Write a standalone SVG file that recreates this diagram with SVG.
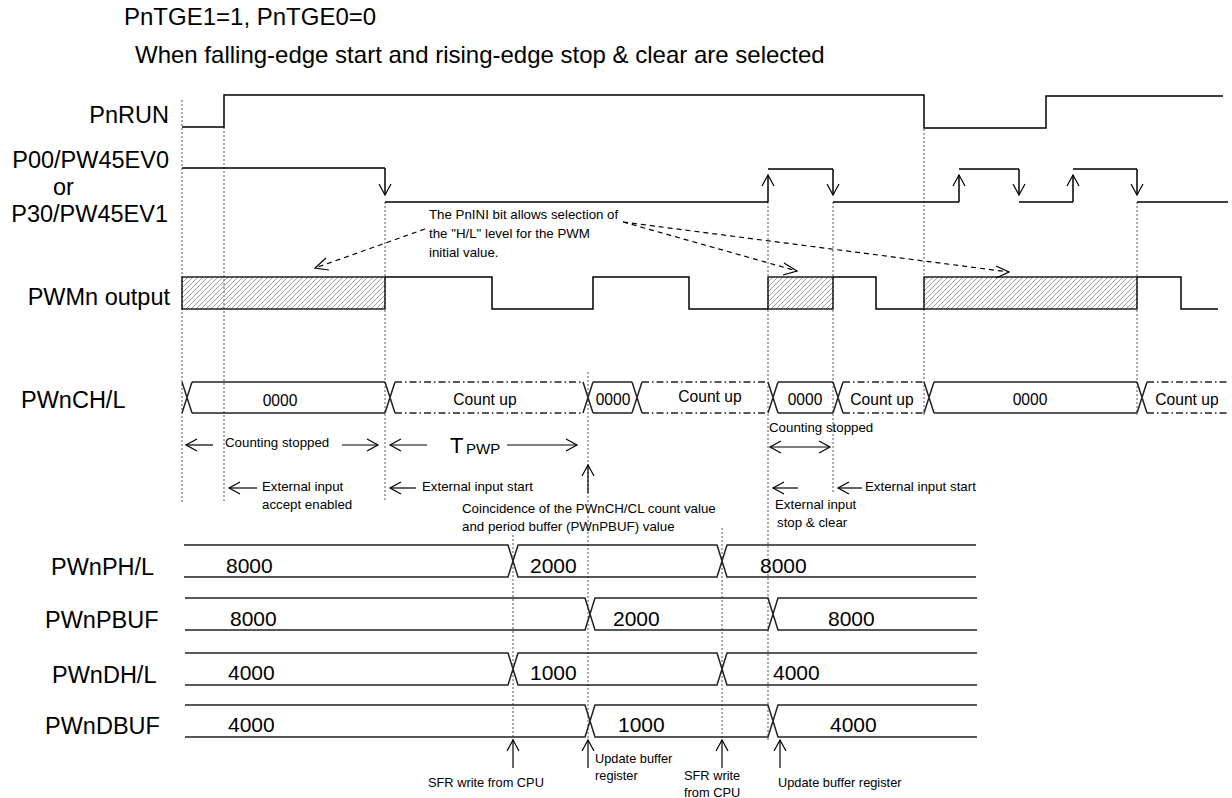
<svg xmlns="http://www.w3.org/2000/svg" width="1232" height="798" viewBox="0 0 1232 798">
<style>
text{font-family:"Liberation Sans",Arial,Helvetica,sans-serif;fill:#000}
.lbl{font-size:23.5px}
.ttl{font-size:24px}
.ann{font-size:13.3px}
.sm{font-size:12.8px}
.cv{font-size:15.6px}
.bv{font-size:21px}
.sig{stroke:#000;stroke-width:1.5;fill:none}
.bus{stroke:#222;stroke-width:1.5;fill:none}
.dd{stroke-dasharray:7 3 1.5 3}
.dot{stroke:#555;stroke-width:1;stroke-dasharray:2 2;fill:none}
.arr{stroke:#000;stroke-width:1.2;fill:none;marker-end:url(#ah)}
.sa{stroke:#000;stroke-width:1.5;fill:none;marker-end:url(#ah)}
.dsh{stroke:#000;stroke-width:1.2;stroke-dasharray:5 4;fill:none}
.hd{stroke:#000;stroke-width:1.2;fill:none}
</style>
<defs>
<marker id="ah" markerUnits="userSpaceOnUse" markerWidth="14" markerHeight="14" viewBox="0 0 14 14" refX="12" refY="7" orient="auto-start-reverse">
<path d="M1,1 L12,7 L1,13" fill="none" stroke="#000" stroke-width="1.2" stroke-dasharray="none"/>
</marker>
<pattern id="hatch" patternUnits="userSpaceOnUse" width="5" height="5">
<path d="M-1,6 L6,-1 M-1,1 L1,-1 M4,6 L6,4" stroke="#888" stroke-width="0.8"/>
</pattern>
</defs>

<g id="title">
<text class="ttl" x="124" y="25">PnTGE1=1, PnTGE0=0</text>
<text class="ttl" x="135" y="63">When falling-edge start and rising-edge stop &amp; clear are selected</text>
</g>

<g id="guides">
<path class="dot" d="M182,100V502 M224,127V502 M385,202V502 M588,372V740 M768,202V740 M833,202V492 M924,129V415 M1137,202V415 M513,535V740 M722,528V740"/>
</g>

<g id="PnRUN">
<text class="lbl" x="169" y="123" text-anchor="end">PnRUN</text>
<path class="sig" d="M182,127H224V95H924V128H1046V96H1223"/>
</g>

<g id="P00">
<text class="lbl" x="169" y="168" text-anchor="end">P00/PW45EV0</text>
<text class="lbl" x="53" y="195">or</text>
<text class="lbl" x="168" y="222" text-anchor="end">P30/PW45EV1</text>
<path class="sig" d="M182,168H385 M385,202H768 M768,169H833 M833,202H959 M959,169H1019 M1019,202H1073 M1073,169H1137 M1137,202H1228"/>
<line class="sa" x1="385" y1="168" x2="385" y2="195"/>
<line class="sa" x1="768" y1="202" x2="768" y2="175"/>
<line class="sa" x1="833" y1="169" x2="833" y2="195"/>
<line class="sa" x1="959" y1="202" x2="959" y2="175"/>
<line class="sa" x1="1019" y1="169" x2="1019" y2="195"/>
<line class="sa" x1="1073" y1="202" x2="1073" y2="175"/>
<line class="sa" x1="1137" y1="169" x2="1137" y2="195"/>
</g>

<g id="PWMn">
<text class="lbl" x="170" y="305" text-anchor="end">PWMn output</text>
<rect x="182" y="277" width="203" height="32" fill="url(#hatch)" stroke="#000" stroke-width="1.3"/>
<rect x="768" y="277" width="65" height="32" fill="url(#hatch)" stroke="#000" stroke-width="1.3"/>
<rect x="924" y="277" width="213" height="32" fill="url(#hatch)" stroke="#000" stroke-width="1.3"/>
<path class="sig" d="M385,277H492V309H593V277H689V309H768 M833,277H876V309H924 M1137,277H1181V309H1218"/>
</g>

<g id="PWnCHL">
<text class="lbl" x="21" y="408">PWnCH/L</text>
<path class="bus" d="M182,382L192,413 M182,413L192,382 M192,382H385 M192,413H385 M385,382L395,413 M385,413L395,382 M583,382L593,413 M583,413L593,382 M593,382H632 M593,413H632 M632,382L642,413 M632,413L642,382 M768,382L778,413 M768,413L778,382 M778,382H833 M778,413H833 M833,382L843,413 M833,413L843,382 M924,382L934,413 M924,413L934,382 M934,382H1137 M934,413H1137 M1137,382L1147,413 M1137,413L1147,382"/>
<path class="bus dd" d="M395,382H583 M395,413H583 M642,382H768 M642,413H768 M843,382H924 M843,413H924 M1147,382H1228 M1147,413H1228"/>
<text class="cv" x="280" y="406" text-anchor="middle">0000</text>
<text class="cv" x="485" y="405" text-anchor="middle">Count up</text>
<text class="cv" x="613" y="405" text-anchor="middle">0000</text>
<text class="cv" x="710" y="402" text-anchor="middle">Count up</text>
<text class="cv" x="805" y="405" text-anchor="middle">0000</text>
<text class="cv" x="882" y="405" text-anchor="middle">Count up</text>
<text class="cv" x="1030" y="405" text-anchor="middle">0000</text>
<text class="cv" x="1187" y="405" text-anchor="middle">Count up</text>
</g>

<g id="PWnPHL">
<text class="lbl" x="51" y="575">PWnPH/L</text>
<path class="bus" d="M184,545H508L518,577H717L727,545H976 M184,577H508L518,545H717L727,577H976"/>
<text class="bv" x="226" y="573">8000</text>
<text class="bv" x="530" y="573">2000</text>
<text class="bv" x="760" y="573">8000</text>
</g>

<g id="PWnPBUF">
<text class="lbl" x="45" y="628">PWnPBUF</text>
<path class="bus" d="M185,598H585L595,630H768L778,598H977 M185,630H585L595,598H768L778,630H977"/>
<text class="bv" x="230" y="626">8000</text>
<text class="bv" x="613" y="626">2000</text>
<text class="bv" x="828" y="626">8000</text>
</g>

<g id="PWnDHL">
<text class="lbl" x="52" y="683">PWnDH/L</text>
<path class="bus" d="M185,653H508L518,685H717L727,653H977 M185,685H508L518,653H717L727,685H977"/>
<text class="bv" x="228" y="680">4000</text>
<text class="bv" x="530" y="680">1000</text>
<text class="bv" x="773" y="680">4000</text>
</g>

<g id="PWnDBUF">
<text class="lbl" x="45" y="734">PWnDBUF</text>
<path class="bus" d="M185,705H585L595,737H768L778,705H977 M185,737H585L595,705H768L778,737H977"/>
<text class="bv" x="228" y="732">4000</text>
<text class="bv" x="618" y="732">1000</text>
<text class="bv" x="830" y="732">4000</text>
</g>

<g id="annotations">
<line class="arr" x1="213" y1="445" x2="186" y2="445"/>
<line class="arr" x1="342" y1="445" x2="378" y2="445"/>
<line class="arr" x1="427" y1="445" x2="390" y2="445"/>
<line class="arr" x1="507" y1="445" x2="577" y2="445"/>
<line class="arr" x1="257" y1="488" x2="229" y2="488"/>
<line class="arr" x1="416" y1="488" x2="390" y2="488"/>
<line class="arr" x1="588" y1="493" x2="588" y2="465"/>
<line class="arr" x1="798" y1="488" x2="773" y2="488"/>
<line class="arr" x1="862" y1="488" x2="838" y2="488"/>
<line class="arr" x1="513" y1="768" x2="513" y2="740"/>
<line class="arr" x1="588" y1="768" x2="588" y2="740"/>
<line class="arr" x1="722" y1="768" x2="722" y2="740"/>
<line class="arr" x1="780" y1="768" x2="780" y2="740"/>
<line class="hd" marker-start="url(#ah)" marker-end="url(#ah)" x1="770" y1="447" x2="830" y2="447"/>
<text class="ann" x="225" y="447">Counting stopped</text>
<text x="450" y="453" font-size="22">T</text>
<text x="466" y="454" font-size="15">PWP</text>
<text class="ann" x="262" y="491">External input</text>
<text class="ann" x="262" y="509">accept enabled</text>
<text class="ann" x="422" y="491">External input start</text>
<text class="ann" x="462" y="513">Coincidence of the PWnCH/CL count value</text>
<text class="ann" x="462" y="531">and period buffer (PWnPBUF) value</text>
<text class="ann" x="769" y="432">Counting stopped</text>
<text class="ann" x="775" y="509">External input</text>
<text class="ann" x="777" y="527">stop &amp; clear</text>
<text class="ann" x="865" y="491">External input start</text>
<text class="ann" x="429" y="219">The PnINI bit allows selection of</text>
<text class="ann" x="429" y="238">the "H/L" level for the PWM</text>
<text class="ann" x="429" y="257">initial value.</text>
<path class="dsh" d="M425,229L315,268 M623,222L797,271 M623,222L1009,272"/>
<path class="hd" d="M326,258L315,268L329,270 M784,263L797,271L783,275 M996,266L1009,272L996,278"/>
<text class="sm" x="428" y="787">SFR write from CPU</text>
<text class="sm" x="595" y="763">Update buffer</text>
<text class="sm" x="595" y="780">register</text>
<text class="sm" x="684" y="780">SFR write</text>
<text class="sm" x="684" y="797">from CPU</text>
<text class="sm" x="778" y="787">Update buffer register</text>
</g>
</svg>
